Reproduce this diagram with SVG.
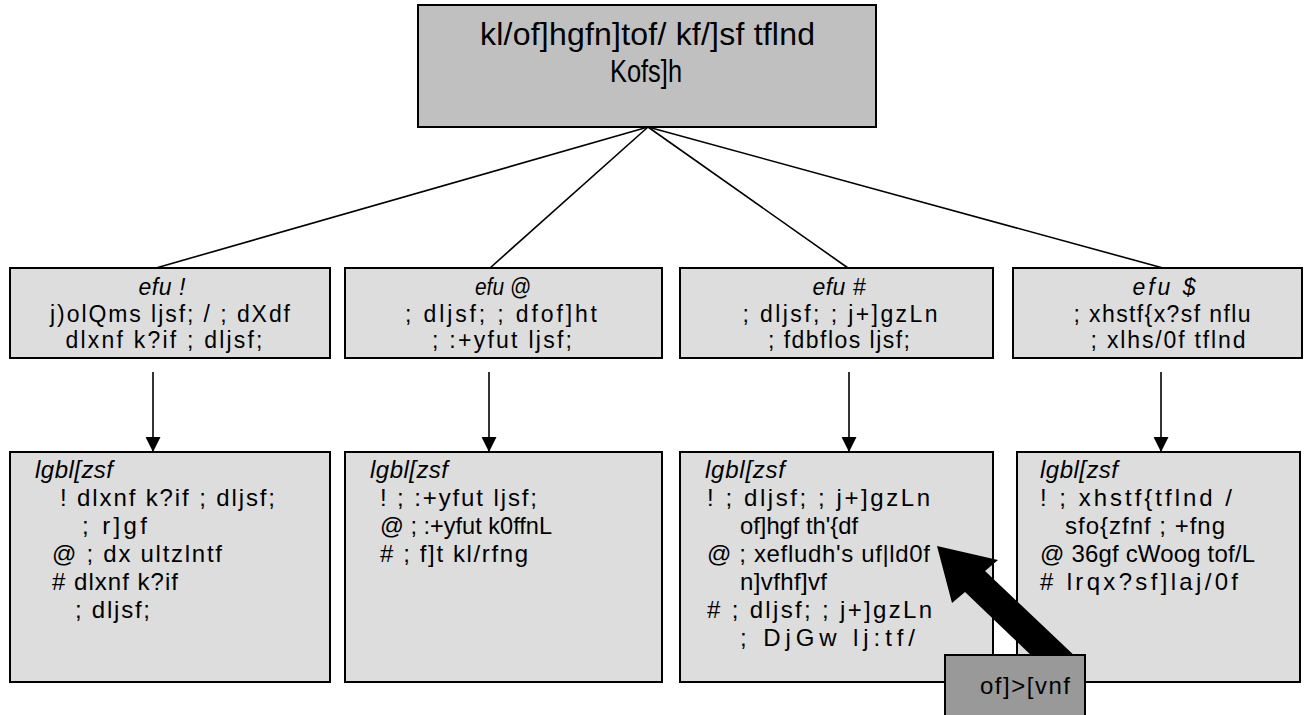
<svg xmlns="http://www.w3.org/2000/svg" width="1308" height="715" viewBox="0 0 1308 715">
<style>
.box{fill:#dddddd;stroke:#000;stroke-width:2}
.top{fill:#c0c0c0;stroke:#000;stroke-width:2}
.lbl{fill:#999999;stroke:#000;stroke-width:2}
text{font-family:"Liberation Sans",Arial,sans-serif;fill:#000}
.t1{font-size:32px}
.t2{font-size:23px;text-anchor:middle}
.t3{font-size:24px}
.it{font-style:italic}
.ln{stroke:#000;stroke-width:1.6;fill:none}
</style>
<defs>
<marker id="ah" viewBox="0 0 10 10" refX="10" refY="5" markerWidth="16" markerHeight="15" markerUnits="userSpaceOnUse" orient="auto">
<path d="M0,0 L10,5 L0,10 Z" fill="#000"/>
</marker>
</defs>
<g id="connectors">
<line class="ln" x1="648" y1="127" x2="156" y2="268"/>
<line class="ln" x1="648" y1="127" x2="490" y2="268"/>
<line class="ln" x1="648" y1="127" x2="848" y2="268"/>
<line class="ln" x1="648" y1="127" x2="1163" y2="268"/>
<line class="ln" x1="153" y1="372" x2="153" y2="452" marker-end="url(#ah)"/>
<line class="ln" x1="489" y1="372" x2="489" y2="452" marker-end="url(#ah)"/>
<line class="ln" x1="849" y1="372" x2="849" y2="452" marker-end="url(#ah)"/>
<line class="ln" x1="1161" y1="372" x2="1161" y2="452" marker-end="url(#ah)"/>
</g>
<g id="root">
<rect class="top" x="418" y="5" width="458" height="122"/>
<text class="t1" x="480" y="45" textLength="335">kl/of]hgfn]tof/ kf/]sf tflnd</text>
<text class="t1" x="610" y="82" textLength="72" lengthAdjust="spacingAndGlyphs">Kofs]h</text>
</g>
<g id="part1">
<rect class="box" x="10" y="268" width="320" height="90"/>
<text class="t2 it" x="162" y="295" textLength="47">efu !</text>
<text class="t2" x="170" y="321.5" textLength="240">j)olQms ljsf; / ; dXdf</text>
<text class="t2" x="164" y="348" textLength="197">dlxnf k?if ; dljsf;</text>
</g>
<g id="part2">
<rect class="box" x="345" y="268" width="317" height="90"/>
<text class="t2 it" x="503" y="295" textLength="56" lengthAdjust="spacingAndGlyphs">efu @</text>
<text class="t2" x="501" y="321.5" textLength="192">; dljsf;  ; dfof]ht</text>
<text class="t2" x="502" y="348" textLength="140">; :+yfut ljsf;</text>
</g>
<g id="part3">
<rect class="box" x="680" y="268" width="313" height="90"/>
<text class="t2 it" x="839" y="295" textLength="53">efu #</text>
<text class="t2" x="840" y="321.5" textLength="195">; dljsf;  ; j+]gzLn</text>
<text class="t2" x="839" y="348" textLength="142">; fdbflos ljsf;</text>
</g>
<g id="part4">
<rect class="box" x="1013" y="268" width="289" height="90"/>
<text class="t2 it" x="1164" y="295" textLength="63">efu $</text>
<text class="t2" x="1162" y="321.5" textLength="177">; xhstf{x?sf nflu</text>
<text class="t2" x="1168" y="348" textLength="155">; xlhs/0f tflnd</text>
</g>
<g id="guide1">
<rect class="box" x="10" y="452" width="320" height="230"/>
<text class="t3 it" x="35" y="478" textLength="78">lgbl[zsf</text>
<text class="t3" x="60" y="506" textLength="215">! dlxnf k?if ; dljsf;</text>
<text class="t3" x="82" y="534" textLength="65">; r]gf</text>
<text class="t3" x="52" y="562" textLength="170">@ ; dx ultzlntf</text>
<text class="t3" x="52" y="590" textLength="126"># dlxnf k?if</text>
<text class="t3" x="75" y="618" textLength="75">; dljsf;</text>
</g>
<g id="guide2">
<rect class="box" x="345" y="452" width="317" height="230"/>
<text class="t3 it" x="370" y="478" textLength="78">lgbl[zsf</text>
<text class="t3" x="380" y="506" textLength="157">! ; :+yfut ljsf;</text>
<text class="t3" x="380" y="534" textLength="172" lengthAdjust="spacingAndGlyphs">@ ; :+yfut k0ffnL</text>
<text class="t3" x="380" y="562" textLength="148"># ; f]t kl/rfng</text>
</g>
<g id="guide3">
<rect class="box" x="680" y="452" width="313" height="230"/>
<text class="t3 it" x="705" y="478" textLength="80">lgbl[zsf</text>
<text class="t3" x="707" y="506" textLength="223">! ; dljsf;  ; j+]gzLn</text>
<text class="t3" x="740" y="534" textLength="118" lengthAdjust="spacingAndGlyphs">of]hgf th'{df</text>
<text class="t3" x="707" y="562" textLength="223">@ ; xefludh's uf|ld0f</text>
<text class="t3" x="740" y="590" textLength="87">n]vfhf]vf</text>
<text class="t3" x="707" y="618" textLength="225"># ; dljsf;  ; j+]gzLn</text>
<text class="t3" x="740" y="646" textLength="175">; DjGw lj:tf/</text>
</g>
<g id="guide4">
<rect class="box" x="1017" y="452" width="283" height="230"/>
<text class="t3 it" x="1040" y="478" textLength="78">lgbl[zsf</text>
<text class="t3" x="1040" y="506" textLength="192">! ; xhstf{tflnd /</text>
<text class="t3" x="1065" y="534" textLength="160">sfo{zfnf ; +fng</text>
<text class="t3" x="1040" y="562" textLength="215">@ 36gf cWoog tof/L</text>
<text class="t3" x="1040" y="590" textLength="198"># lrqx?sf]laj/0f</text>
</g>
<g id="pointer">
<polygon points="937,546 998,560 985,571 1079,660 1059,682 965,592 952,603" fill="#000"/>
</g>
<g id="annotation">
<rect class="lbl" x="945" y="655" width="140" height="70"/>
<text class="t3" x="980" y="694" textLength="90">of]&gt;[vnf</text>
</g>
</svg>
